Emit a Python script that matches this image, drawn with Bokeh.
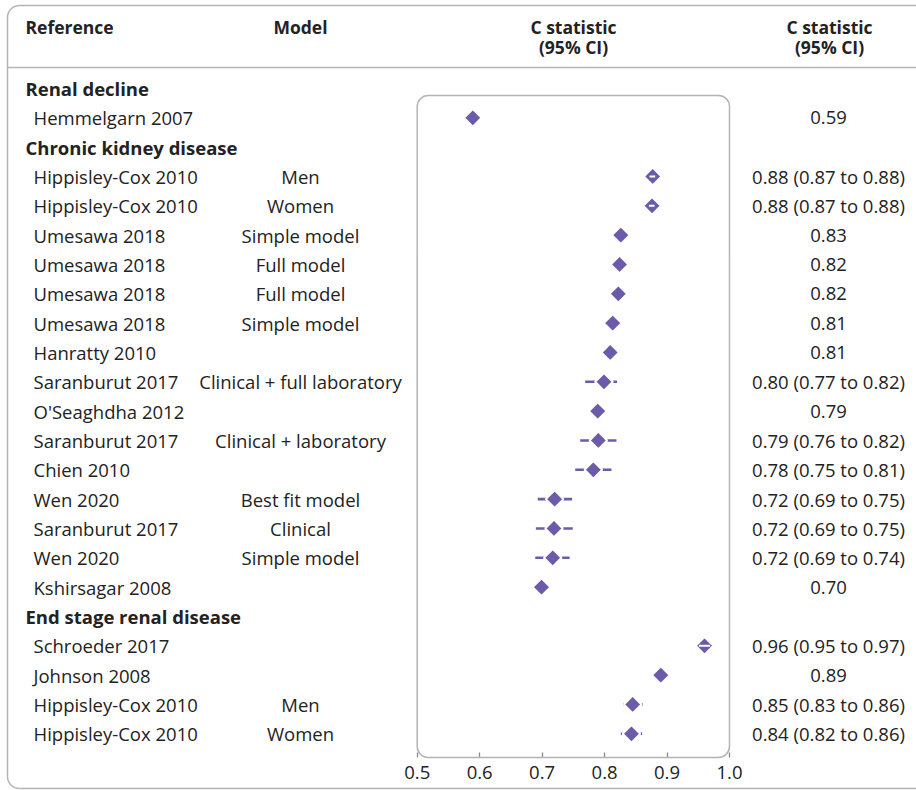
import numpy as np
from bokeh.plotting import figure
from bokeh.models import Range1d, BoxAnnotation, FixedTicker, LinearAxis, ColumnDataSource
from bokeh.core.properties import value
from bokeh.embed import file_html
from bokeh.resources import INLINE

# ---------------- data ----------------
sections = ["Renal decline", "Chronic kidney disease", "End stage renal disease"]
section_rows = [0, 2, 18]

references = ["Hemmelgarn 2007",
              "Hippisley-Cox 2010", "Hippisley-Cox 2010", "Umesawa 2018", "Umesawa 2018",
              "Umesawa 2018", "Umesawa 2018", "Hanratty 2010", "Saranburut 2017",
              "O'Seaghdha 2012", "Saranburut 2017", "Chien 2010", "Wen 2020",
              "Saranburut 2017", "Wen 2020", "Kshirsagar 2008",
              "Schroeder 2017", "Johnson 2008", "Hippisley-Cox 2010", "Hippisley-Cox 2010"]
models = ["",
          "Men", "Women", "Simple model", "Full model", "Full model", "Simple model", "",
          "Clinical + full laboratory", "", "Clinical + laboratory", "", "Best fit model",
          "Clinical", "Simple model", "",
          "", "", "Men", "Women"]
study_rows = [1] + list(range(3, 18)) + list(range(19, 23))

c_stat = [0.589,
          0.877, 0.876, 0.826, 0.824, 0.822, 0.813, 0.809, 0.799, 0.789, 0.790, 0.782,
          0.720, 0.719, 0.717, 0.699,
          0.960, 0.890, 0.845, 0.843]
ci_low = [np.nan,
          0.872, 0.871, np.nan, np.nan, np.nan, np.nan, np.nan, 0.769, np.nan, 0.761, 0.753,
          0.693, 0.690, 0.689, np.nan,
          0.951, np.nan, 0.830, 0.826]
ci_high = [np.nan,
           0.881, 0.880, np.nan, np.nan, np.nan, np.nan, np.nan, 0.820, np.nan, 0.819, 0.811,
           0.748, 0.749, 0.744, np.nan,
           0.969, np.nan, 0.861, 0.860]
ci_text = ["0.59",
           "0.88 (0.87 to 0.88)", "0.88 (0.87 to 0.88)", "0.83", "0.82", "0.82", "0.81",
           "0.81", "0.80 (0.77 to 0.82)", "0.79", "0.79 (0.76 to 0.82)", "0.78 (0.75 to 0.81)",
           "0.72 (0.69 to 0.75)", "0.72 (0.69 to 0.75)", "0.72 (0.69 to 0.74)", "0.70",
           "0.96 (0.95 to 0.97)", "0.89", "0.85 (0.83 to 0.86)", "0.84 (0.82 to 0.86)"]

x_ticks = [0.5, 0.6, 0.7, 0.8, 0.9, 1.0]
tick_labels = ["0.5", "0.6", "0.7", "0.8", "0.9", "1.0"]

headers = ["Reference", "Model", "C statistic", "(95% CI)", "C statistic", "(95% CI)"]

# ---------------- layout ----------------
W, H = 916, 790
PANEL_BOTTOM = 757
X_LO_PX, X_HI_PX = 416.7, 729.0
K = (X_HI_PX - X_LO_PX) / (x_ticks[-1] - x_ticks[0])
X0 = x_ticks[0] - X_LO_PX / K
ROW0_PX, ROW_PX = 88.0, 29.33


def xd(px):
    return X0 + px / K


def yd(py):
    return (py - ROW0_PX) / ROW_PX


PURPLE = "#6b5ba8"
TEXT = "#222222"
GREY = "#b4b4b4"
FONT = value("Open Sans")
FS = "18.5px"

p = figure(width=W, height=H, output_backend="svg", toolbar_location=None,
           x_range=Range1d(xd(0), xd(W)), y_range=Range1d(yd(H), yd(0)),
           x_axis_type=None, y_axis_type=None, min_border=0)
p.outline_line_color = None
p.xgrid.visible = False
p.ygrid.visible = False
p.background_fill_color = "white"
p.border_fill_color = "white"

# outer frame and header rule
p.add_layout(BoxAnnotation(left=xd(7), right=xd(940), top=yd(5), bottom=yd(788),
                           border_radius=12, fill_color=None, fill_alpha=0,
                           line_color=GREY, line_alpha=1, line_width=1.5))
p.segment(x0=[xd(7)], x1=[xd(W)], y0=[yd(67)], y1=[yd(67)], line_color=GREY, line_width=1.5)

# forest panel
p.add_layout(BoxAnnotation(left=x_ticks[0], right=x_ticks[-1], top=yd(95), bottom=yd(PANEL_BOTTOM),
                           border_radius=11, fill_color=None, fill_alpha=0,
                           line_color=GREY, line_alpha=1, line_width=1.5))

# header texts
hdr_x = [xd(25), xd(300), xd(573), xd(573), xd(829), xd(829)]
hdr_y = [yd(26), yd(26), yd(26), yd(46), yd(26), yd(46)]
hdr_align = ["left", "center", "center", "center", "center", "center"]
p.text(x=hdr_x, y=hdr_y, text=headers, text_align=hdr_align, text_baseline="middle",
       text_font=FONT, text_font_style="bold", text_font_size="17.5px", text_color=TEXT)

# section headers
p.text(x=[xd(25)] * len(sections), y=section_rows, text=sections, text_align="left",
       text_baseline="middle", text_font=FONT, text_font_style="bold",
       text_font_size=FS, text_color=TEXT)

src = ColumnDataSource(dict(row=study_rows, ref=references, model=models, c=c_stat,
                            lo=ci_low, hi=ci_high, lab=ci_text))

p.text(x=xd(33), y="row", text="ref", source=src, text_align="left", text_baseline="middle",
       text_font=FONT, text_font_size=FS, text_color=TEXT)
p.text(x=xd(300), y="row", text="model", source=src, text_align="center", text_baseline="middle",
       text_font=FONT, text_font_size=FS, text_color=TEXT)
p.text(x=xd(828), y="row", text="lab", source=src, text_align="center", text_baseline="middle",
       text_font=FONT, text_font_size=FS, text_color=TEXT)

# confidence intervals, diamonds
p.segment(x0="lo", x1="hi", y0="row", y1="row", source=src, line_color=PURPLE, line_width=2.6)
p.scatter(x="c", y="row", source=src, marker="square", angle=np.pi / 4, size=12.5,
          fill_color=PURPLE, line_color="white", line_width=2)

half_w = 7.0 / K
lo = np.array(ci_low)
hi = np.array(ci_high)
c = np.array(c_stat)
inside = (~np.isnan(lo)) & (lo >= c - half_w) & (hi <= c + half_w)
rows_arr = np.array(study_rows)
p.segment(x0=lo[inside], x1=hi[inside], y0=rows_arr[inside], y1=rows_arr[inside],
          line_color="white", line_width=2)

# x axis, pinned to the bottom edge of the forest panel
ax = LinearAxis(ticker=FixedTicker(ticks=x_ticks), fixed_location=yd(PANEL_BOTTOM),
                major_label_overrides={t: l for t, l in zip(x_ticks, tick_labels)})
ax.axis_line_color = None
ax.major_tick_in = 5
ax.major_tick_out = 0
ax.major_tick_line_color = "#8a8a8a"
ax.major_tick_line_width = 1.3
ax.minor_tick_line_color = None
ax.major_label_standoff = 8
ax.major_label_text_font = "Open Sans"
ax.major_label_text_font_size = FS
ax.major_label_text_color = TEXT
p.add_layout(ax, "below")

open("out.html", "w").write(file_html(p, INLINE))
